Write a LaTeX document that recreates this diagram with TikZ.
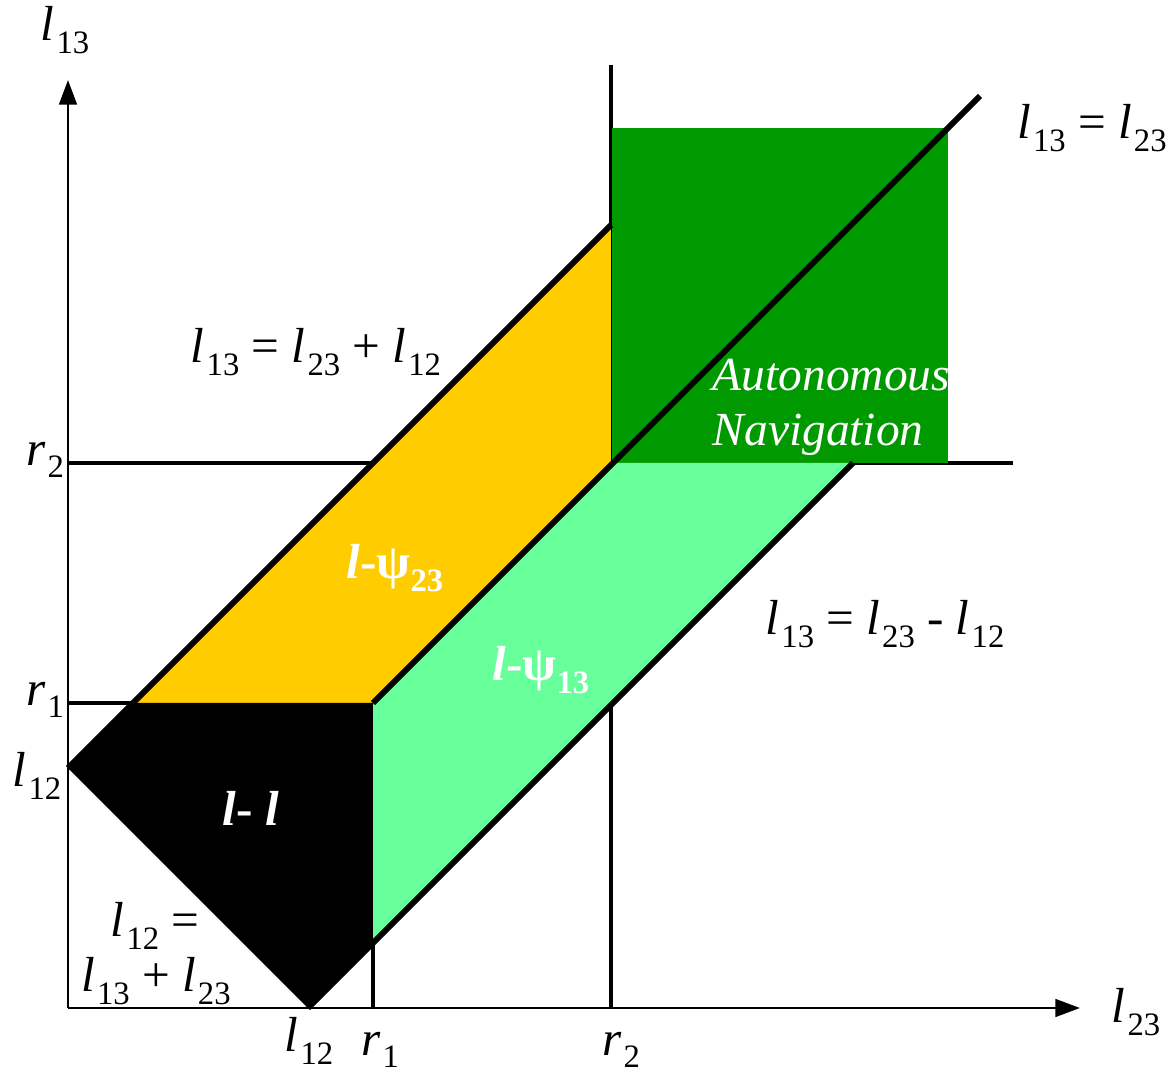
\documentclass[tikz,border=0pt]{standalone}
\usepackage{fontspec}
\setmainfont{LiberationSerif}[Extension=.ttf, UprightFont=*-Regular, BoldFont=*-Bold,
    ItalicFont=*-Italic, BoldItalicFont=*-BoldItalic]
\usetikzlibrary{arrows.meta}
\definecolor{gold}{HTML}{FFCC00}
\definecolor{mint}{HTML}{66FF99}
\definecolor{forest}{HTML}{009900}
\newcommand{\lsub}[1]{\textit{l}\kern0.6pt\raisebox{-3.6pt}{\fontsize{9.3}{10}\selectfont #1}}
\newcommand{\rsub}[1]{\textit{r}\kern0.6pt\raisebox{-3.6pt}{\fontsize{9.3}{10}\selectfont #1}}
\newcommand{\bsub}[1]{\raisebox{-3.6pt}{\fontsize{9.3}{10}\selectfont\bfseries #1}}
\begin{document}
\begin{tikzpicture}[
    lbl/.style={font=\fontsize{14}{16}\selectfont, inner sep=0pt},
    region/.style={font=\fontsize{14}{16}\selectfont\bfseries, text=white, inner sep=0pt},
    axis/.style={line width=0.8pt, -{Triangle[length=7pt,width=5pt]}},
    level/.style={line width=1.1pt},
    bound/.style={line width=1.7pt}]
    \useasboundingbox (-0.68,-0.65) rectangle (11.00,10.08);
    % key points
    \coordinate (O) at (0,0);
    \coordinate (Y) at (0,9.28);
    \coordinate (X) at (10.12,0);
    \coordinate (La) at (0,2.4);
    \coordinate (Lb) at (2.4,0);
    \coordinate (Ra) at (0,3.05);
    \coordinate (Rb) at (3.05,0);
    \coordinate (Sa) at (0,5.45);
    \coordinate (Sb) at (5.43,0);
    \coordinate (P) at (3.05,3.05);
    \coordinate (Q) at (5.43,5.45);
    \coordinate (Top) at (5.43,7.83);
    \coordinate (Low) at (3.05,0.65);
    \coordinate (Yc) at (0.65,3.05);
    \coordinate (E) at (7.85,5.45);
    % level lines
    \draw[level] (Ra) -- (P);
    \draw[level] (Rb) -- (P);
    \draw[level] (Sa) -- (9.45,5.45);
    \draw[level] (Sb) -- (Low -| Sb);
    \draw[line width=0.9pt] (Sb) -- (5.43,9.43);
    % regions
    \fill[forest] (5.44,5.45) rectangle (8.80,8.80);
    \fill[gold] (Yc) -- (Top) -- (Q) -- (P) -- cycle;
    \fill[mint] (P) -- (Q) -- (E) -- (Low) -- cycle;
    \fill[black] (La) -- (Yc) -- (P) -- (Low) -- (Lb) -- cycle;
    % boundaries
    \draw[bound] (La) -- (Top);
    \draw[bound] (P) -- (9.12,9.12);
    \draw[bound] (Lb) -- (E);
    % axes
    \draw[axis] (O) -- (Y);
    \draw[axis] (O) -- (X);
    % labels
    \node[lbl] (ylab) at (-0.03,9.78) {\lsub{13}};
    \node[lbl] (xlab) at (10.68,-0.04) {\lsub{23}};
    \node[lbl] (ytwo) at (-0.23,5.48) {\rsub{2}};
    \node[lbl] (yone) at (-0.23,3.08) {\rsub{1}};
    \node[lbl] (yl) at (-0.31,2.32) {\lsub{12}};
    \node[lbl] (xl) at (2.41,-0.33) {\lsub{12}};
    \node[lbl] (xone) at (3.12,-0.42) {\rsub{1}};
    \node[lbl] (xtwo) at (5.53,-0.42) {\rsub{2}};
    \node[lbl] (upper) at (2.48,6.56) {\lsub{13} = \lsub{23} + \lsub{12}};
    \node[lbl] (diag) at (10.24,8.80) {\lsub{13} = \lsub{23}};
    \node[lbl] (lower) at (8.17,3.84) {\lsub{13} = \lsub{23} - \lsub{12}};
    \node[lbl] (sumtop) at (0.87,0.82) {\lsub{12} =};
    \node[lbl] (sumbot) at (0.88,0.27) {\lsub{13} + \lsub{23}};
    \node[font=\fontsize{13.5}{15.6}\selectfont\itshape, text=white, inner sep=0pt,
        anchor=west, align=left] (auto) at (6.44,6.01) {Autonomous\\Navigation};
    \node[region] (psi23) at (3.27,4.40) {\textit{l}-ψ\bsub{23}};
    \node[region] (psi13) at (4.73,3.38) {\textit{l}-ψ\bsub{13}};
    \node[region] (ll) at (1.83,2.00) {\textit{l}- \textit{l}};
\end{tikzpicture}
\end{document}
